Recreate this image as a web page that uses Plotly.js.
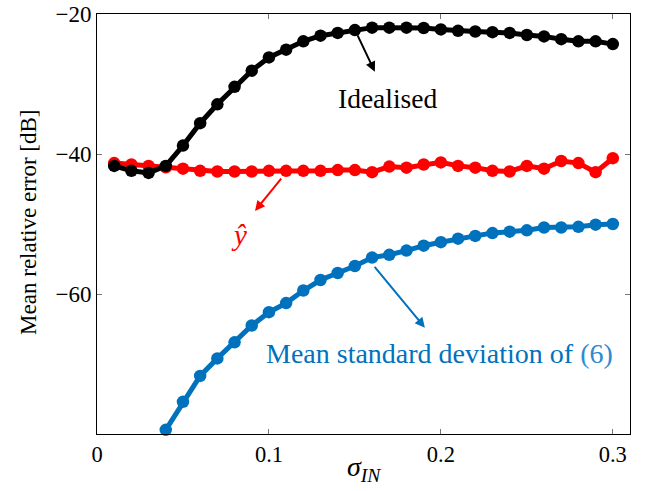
<!DOCTYPE html>
<html>
<head>
<meta charset="utf-8">
<script src="https://cdn.plot.ly/plotly-3.0.1.min.js"></script>
<style>html,body{margin:0;padding:0;background:#fff;}#chart{width:652px;height:491px;}</style>
</head>
<body>
<div id="chart"></div>
<script>
var sigma = [0.01,0.02,0.03,0.04,0.05,0.06,0.07,0.08,0.09,0.10,0.11,0.12,0.13,0.14,0.15,0.16,0.17,0.18,0.19,0.20,0.21,0.22,0.23,0.24,0.25,0.26,0.27,0.28,0.29,0.30];
var idealised = [-41.7,-42.4,-42.7,-41.7,-38.8,-35.6,-32.9,-30.4,-28.1,-26.2,-25.1,-23.9,-23.1,-22.7,-22.3,-21.95,-21.95,-21.95,-22.0,-22.2,-22.4,-22.5,-22.6,-22.7,-23.0,-23.2,-23.6,-23.9,-23.9,-24.3];
var yhat = [-41.3,-41.5,-41.7,-41.9,-42.1,-42.4,-42.5,-42.5,-42.5,-42.4,-42.4,-42.4,-42.4,-42.3,-42.3,-42.6,-41.8,-41.95,-41.5,-41.2,-41.7,-41.95,-42.4,-42.5,-41.7,-42.1,-41.0,-41.3,-42.6,-40.6];
var sigmaStd = [0.04,0.05,0.06,0.07,0.08,0.09,0.10,0.11,0.12,0.13,0.14,0.15,0.16,0.17,0.18,0.19,0.20,0.21,0.22,0.23,0.24,0.25,0.26,0.27,0.28,0.29,0.30];
var meanStd = [-79.4,-75.4,-71.7,-69.2,-66.9,-64.5,-62.6,-61.3,-59.5,-58.0,-57.0,-56.0,-54.8,-54.4,-53.8,-53.1,-52.6,-52.1,-51.7,-51.3,-51.1,-50.9,-50.5,-50.5,-50.4,-50.1,-50.0];
var xTicks = [0, 0.1, 0.2, 0.3];
var xTickText = ['0', '0.1', '0.2', '0.3'];
var yTicks = [-20, -40, -60];
var yTickText = ['\u221220', '\u221240', '\u221260'];

var serif = 'Liberation Serif';
var cBlack = '#000000', cRed = '#ff0000', cBlue = '#0072bd';

function tr(x, y, c) {
  return {x: x, y: y, type: 'scatter', mode: 'lines+markers',
    line: {color: c, width: 5}, marker: {color: c, size: 12.5}, cliponaxis: false, showlegend: false};
}

var data = [tr(sigma, yhat, cRed), tr(sigma, idealised, cBlack), tr(sigmaStd, meanStd, cBlue)];

function arrow(x0, y0, x1, y1, c) {
  return {x: x1, y: y1, ax: x0, ay: y0, axref: 'x', ayref: 'y', xref: 'x', yref: 'y',
    text: ' ', showarrow: true, arrowhead: 2, arrowsize: 1, arrowwidth: 2, arrowcolor: c, standoff: 0, startstandoff: 0,
    font: {size: 1}};
}

var layout = {
  width: 652, height: 491,
  margin: {l: 97, r: 22, t: 14, b: 57},
  paper_bgcolor: '#fff', plot_bgcolor: '#fff',
  font: {family: serif, color: '#000'},
  xaxis: {range: [0, 0.31], tickvals: xTicks, ticktext: xTickText, ticks: 'inside', ticklen: 5, tickcolor: '#777',
    showgrid: false, zeroline: false, showline: true, linecolor: '#000', linewidth: 1, mirror: 'ticks',
    tickfont: {size: 22.5, family: serif}},
  yaxis: {range: [-80, -20], tickvals: yTicks, ticktext: yTickText, ticks: 'inside', ticklen: 5, tickcolor: '#777',
    showgrid: false, zeroline: false, showline: true, linecolor: '#000', linewidth: 1, mirror: 'ticks',
    tickfont: {size: 23, family: serif}},
  annotations: [
    arrow(0.151, -22.76, 0.1616, -28.24, cBlack),
    arrow(0.108, -43.24, 0.0919, -48.14, cRed),
    arrow(0.1606, -55.86, 0.1907, -64.81, cBlue),
    {x: 0.1692, y: -32.0, xref: 'x', yref: 'y', text: 'Idealised', showarrow: false, font: {size: 27.5, color: cBlack, family: serif}},
    {x: 0.0826, y: -51.6, xref: 'x', yref: 'y', text: '<i>ŷ</i>', showarrow: false, font: {size: 29, color: cRed, family: serif}},
    {x: 0.1991, y: -68.57, xref: 'x', yref: 'y', text: 'Mean standard deviation of <span style="color:#2f8ad0">(6)</span>', showarrow: false, font: {size: 28, color: cBlue, family: serif}},
    {x: 0.5, y: -0.081, xref: 'paper', yref: 'paper', xanchor: 'center', yanchor: 'middle', text: '<i>σ</i><sub><i>IN</i></sub>', showarrow: false, font: {size: 28, color: cBlack, family: serif}},
    {x: -0.1276, y: 0.505, xref: 'paper', yref: 'paper', xanchor: 'center', yanchor: 'middle', textangle: -90, text: 'Mean relative error [dB]', showarrow: false, font: {size: 23, color: cBlack, family: serif}}
  ]
};

Plotly.newPlot('chart', data, layout, {displayModeBar: false, staticPlot: true});
</script>
</body>
</html>
